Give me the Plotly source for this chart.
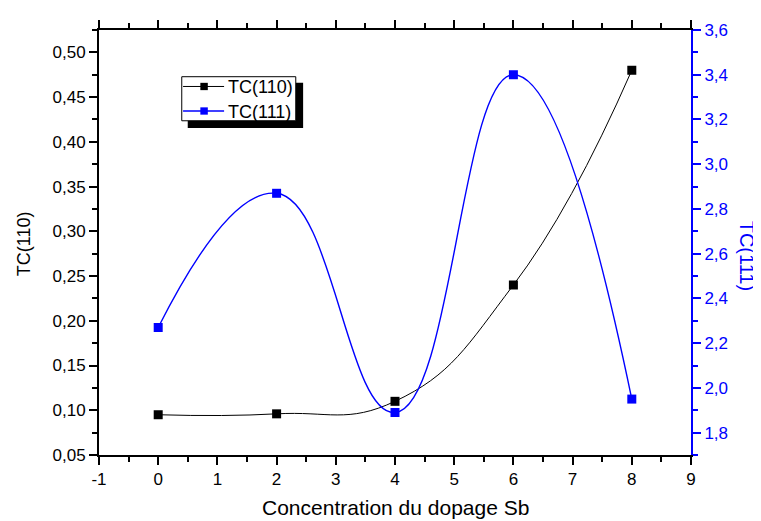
import plotly.graph_objects as go

# Data
conc = [0, 2, 4, 6, 8]
tc110 = [0.095, 0.096, 0.110, 0.240, 0.480]
tc111 = [2.27, 2.87, 1.89, 3.40, 1.95]

x_tickvals = [-1, 0, 1, 2, 3, 4, 5, 6, 7, 8, 9]
x_ticktext = ["-1", "0", "1", "2", "3", "4", "5", "6", "7", "8", "9"]

name110 = "TC(110)"
name111 = "TC(111)"
x_title = "Concentration du dopage Sb"

BLUE = "#0000ff"
FONT = "Liberation Sans, Arial, sans-serif"

fig = go.Figure()
fig.add_trace(go.Scatter(
    x=conc, y=tc110, name=name110, mode="lines+markers",
    line=dict(color="black", width=1, shape="spline", smoothing=1.3),
    marker=dict(symbol="square", size=9, color="black"),
    yaxis="y"))
fig.add_trace(go.Scatter(
    x=conc, y=tc111, name=name111, mode="lines+markers",
    line=dict(color=BLUE, width=1.4, shape="spline", smoothing=1.3),
    marker=dict(symbol="square", size=9, color=BLUE),
    yaxis="y2"))

# page body has an 8px margin: the figure is sized to fill the rest
fig.update_layout(
    width=753, height=513,
    margin=dict(l=91, r=70, t=13, b=66),
    paper_bgcolor="white", plot_bgcolor="white",
    separators=",.",
    font=dict(family=FONT, size=17, color="black"),
    showlegend=False,
    xaxis=dict(range=[-1, 9], tickmode="array", tickvals=x_tickvals, ticktext=x_ticktext,
               showgrid=False, zeroline=False,
               showline=True, linecolor="black", linewidth=2,
               ticks="outside", ticklen=8, tickwidth=2, tickcolor="black",
               mirror="ticks",
               minor=dict(dtick=0.5, tick0=-1, ticks="outside", ticklen=5, tickwidth=1.5, tickcolor="black"),
               tickfont=dict(size=17)),
    yaxis=dict(range=[0.05, 0.525], tickmode="linear", tick0=0.05, dtick=0.05,
               tickformat=".2f",
               showgrid=False, zeroline=False,
               showline=True, linecolor="black", linewidth=2,
               ticks="outside", ticklen=8, tickwidth=2, tickcolor="black",
               minor=dict(dtick=0.025, ticks="outside", ticklen=5, tickwidth=1.5, tickcolor="black"),
               tickfont=dict(size=17)),
    yaxis2=dict(range=[1.7, 3.6], overlaying="y", side="right",
                tickmode="linear", tick0=1.8, dtick=0.2, tickformat=".1f",
                showgrid=False, zeroline=False,
                showline=True, linecolor=BLUE, linewidth=2,
                ticks="outside", ticklen=8, tickwidth=2, tickcolor=BLUE,
                minor=dict(dtick=0.1, ticks="outside", ticklen=5, tickwidth=1.5, tickcolor=BLUE),
                tickfont=dict(size=17, color=BLUE)),
)

# ---- hand-drawn legend (box with drop shadow) ----
fig.add_shape(type="rect", xref="paper", yref="paper",
              x0=0.1499, x1=0.3448, y0=0.7696, y1=0.8756,
              fillcolor="black", line=dict(width=0), layer="above")
fig.add_shape(type="rect", xref="paper", yref="paper",
              x0=0.1398, x1=0.3324, y0=0.7864, y1=0.8901,
              fillcolor="white", line=dict(color="black", width=1), layer="above")
legend_rows = [(name110, "black", 0.8671, 1.0), (name111, BLUE, 0.8094, 1.4)]
for label, col, yy, lw in legend_rows:
    fig.add_shape(type="line", xref="paper", yref="paper",
                  x0=0.1420, x1=0.2113, y0=yy, y1=yy,
                  line=dict(color=col, width=lw), layer="above")
    fig.add_shape(type="rect", xref="paper", yref="paper",
                  x0=0.1775 - 0.0063, x1=0.1775 + 0.0063,
                  y0=yy - 0.0086, y1=yy + 0.0086,
                  fillcolor=col, line=dict(width=0), layer="above")
    fig.add_annotation(text=label, xref="paper", yref="paper", x=0.2150, y=yy - 0.002,
                       xanchor="left", yanchor="middle", showarrow=False,
                       font=dict(size=18, color="black"))

# axis titles
fig.add_annotation(text=x_title, xref="paper", yref="paper", x=0.5, y=0,
                   xanchor="center", yanchor="middle", yshift=-52,
                   showarrow=False, font=dict(size=21, color="black"))
fig.add_annotation(text=name110, xref="paper", yref="paper", x=0, y=0.497,
                   xanchor="center", yanchor="middle", xshift=-75.5,
                   textangle=-90, showarrow=False, font=dict(size=18, color="black"))
fig.add_annotation(text=name111, xref="paper", yref="paper", x=1, y=0.469,
                   xanchor="center", yanchor="middle", xshift=56,
                   textangle=90, showarrow=False, font=dict(size=20, color=BLUE))

fig.write_html("out.html")
